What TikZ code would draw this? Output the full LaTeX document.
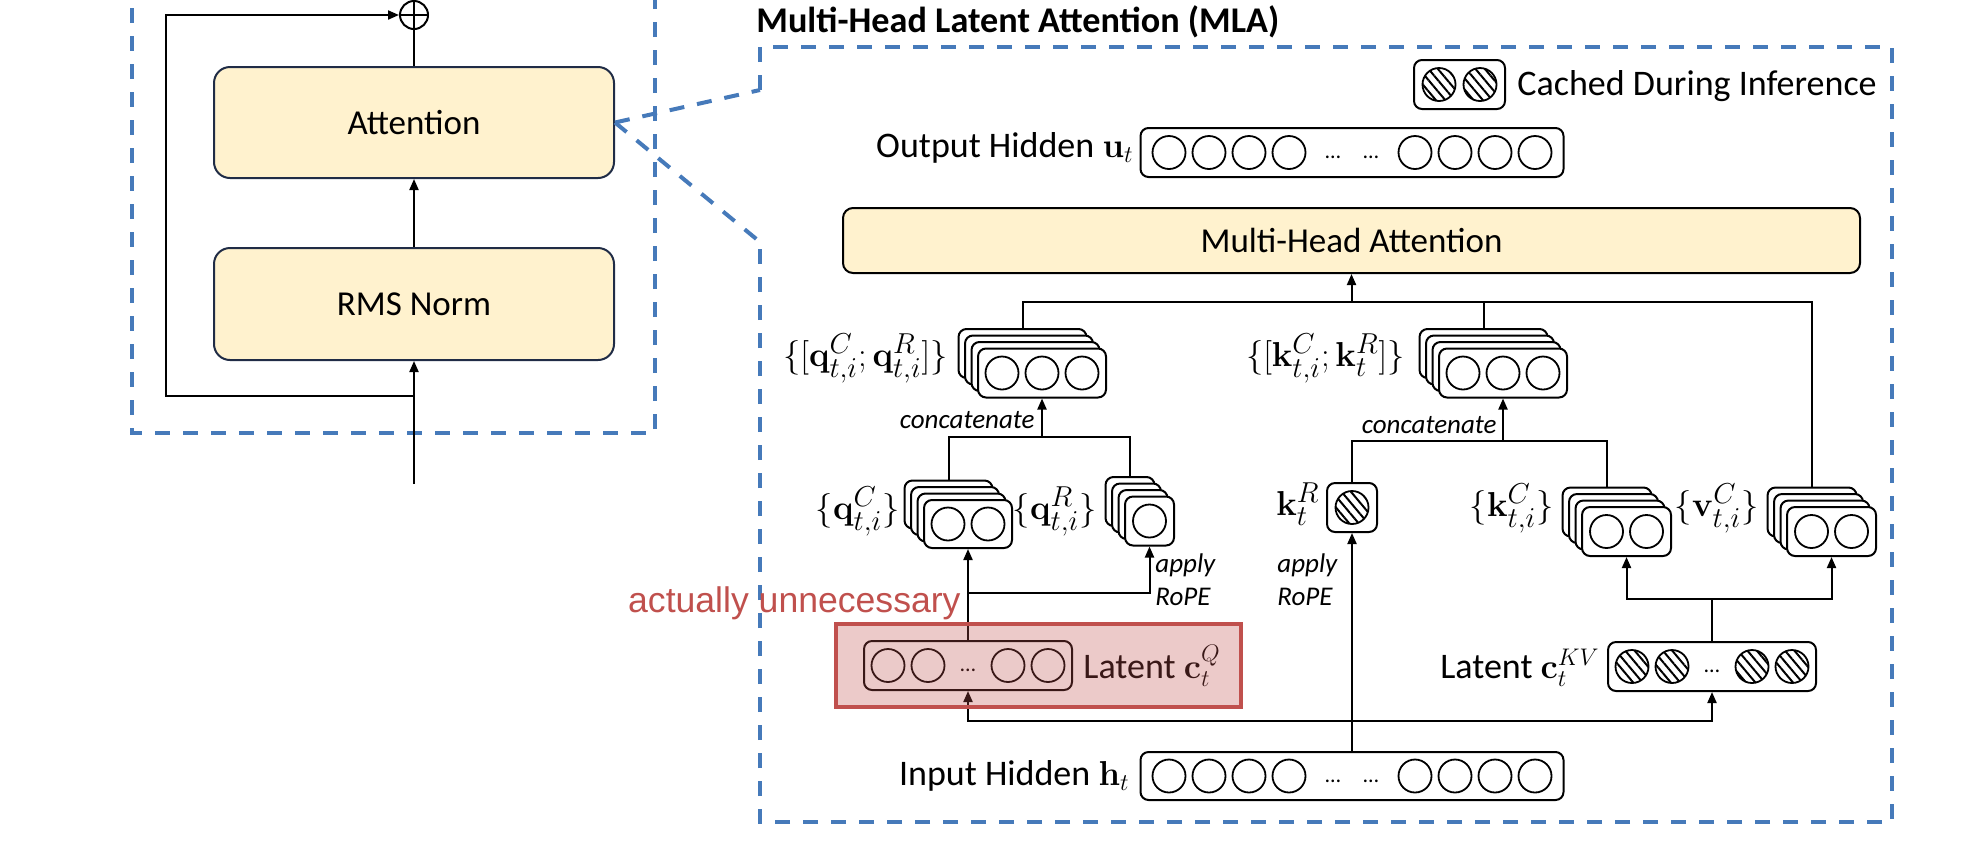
\documentclass[tikz,border=0pt]{standalone}
\usepackage[no-math]{fontspec}
\setmainfont{Carlito}
\newfontfamily\arialfont{Liberation Sans}
\usepackage{amsmath}
\usetikzlibrary{calc,arrows.meta,patterns.meta}

\definecolor{mlablue}{RGB}{70,122,186}
\definecolor{blockfill}{RGB}{255,242,206}
\definecolor{blockline}{RGB}{32,44,70}
\definecolor{unneeded}{RGB}{192,80,77}

\tikzset{
  block/.style={draw=blockline, line width=1pt, rounded corners=8pt, fill=blockfill,
    font=\fontsize{17.5}{21}\selectfont},
  vec/.style={draw, line width=1pt, rounded corners=4pt, fill=white, inner sep=0pt},
  cell/.style={draw, circle, line width=0.9pt, minimum size=16.5pt, inner sep=0pt},
  hcell/.style={cell, pattern={Lines[angle=-50,distance=3.6pt,line width=1pt]}},
  dots/.style={inner sep=0pt, anchor=base, font=\fontsize{11}{11}\selectfont},
  lbl/.style={inner sep=0pt, font=\fontsize{18}{21}\selectfont},
  mlbl/.style={inner sep=0pt, font=\fontsize{19}{23}\selectfont},
  note/.style={inner sep=0pt, align=left, font=\fontsize{13.5}{16.5}\selectfont\itshape},
  title/.style={inner sep=0pt, font=\fontsize{18.1}{21}\selectfont\bfseries},
  zoomline/.style={draw=mlablue, line width=2pt, dash pattern=on 7.5pt off 6.5pt},
  link/.style={line width=1pt},
}

% stack of 4 vectors: name, x, y, width, height
\newcommand{\vecstack}[5]{%
  \foreach \k in {3,2,1}
    \node[vec, minimum width=#4, minimum height=#5] (#1\k) at ({#2-6.5*\k},{#3-6.5*\k}) {};
  \node[vec, minimum width=#4, minimum height=#5] (#1) at (#2,#3) {};
}

\begin{document}
\begin{tikzpicture}[x=0.5pt,y=-0.5pt,>={Triangle[length=5.5pt,width=4.5pt]}]
\clip (0,0) rectangle (1968,842);

% ---------- LEFT: transformer block ----------
\draw[zoomline] (132,-20) rectangle (655,433);
\node[block, minimum width=200pt, minimum height=55.5pt] (attn) at (414,122.5) {Attention};
\node[block, minimum width=200pt, minimum height=56pt] (rms) at (414,304) {RMS Norm};
\node[draw, circle, line width=1pt, minimum size=14pt, inner sep=0pt] (plus) at (414,15) {};
\draw[link] (plus.north) -- (plus.south) (plus.west) -- (plus.east);

\coordinate (xin) at (414,484);
\coordinate (resid) at (414,396);
\draw[link,->] (xin) -- (rms.south);
\draw[link,->] (rms.north) -- (attn.south);
\draw[link] (attn.north) -- (plus.south);
\draw[link,->] (resid) -- ++(-248,0) |- (plus.west);

% ---------- RIGHT: MLA frame ----------
\node[title, anchor=base west] (mlatitle) at (756,32) {Multi-Head Latent Attention (MLA)};
\coordinate (zoomtop) at (760,90);
\coordinate (zoombot) at (760,242);
\draw[zoomline] (zoomtop) -- (760,47) -- (1892,47) -- (1892,822) -- (760,822) -- (zoombot);
\draw[zoomline] (attn.east) -- (zoomtop);
\draw[zoomline] (attn.east) -- (zoombot);

% legend
\node[vec, minimum width=45.5pt, minimum height=24.5pt] (cache) at (1459.5,84.5) {};
\foreach \dx in {-20.5,20.5} \node[hcell] at ($(cache)+(\dx,0)$) {};
\node[lbl, anchor=base west] at (1517,95) {Cached During Inference};

% output hidden
\node[vec, minimum width=211.5pt, minimum height=24.5pt] (out) at (1352,152.5) {};
\foreach \dx in {-183,-143,-103,-63,63,103,143,183} \node[cell] at ($(out)+(\dx,0)$) {};
\foreach \dx in {-19,19} \node[dots] at ($(out)+(\dx,6)$) {…};
\node[lbl, anchor=base east] at (1134,157) {Output Hidden $\mathbf{u}_t$};

% attention block
\node[block, draw=black, rounded corners=5pt, minimum width=508.5pt, minimum height=32.5pt] (mha) at (1351.5,240.5) {Multi-Head Attention};

% concatenated q and k
\vecstack{qcat}{1042}{373}{64pt}{24.5pt}
\foreach \dx in {-40,0,40} \node[cell] at ($(qcat)+(\dx,0)$) {};
\node[mlbl, anchor=base east] at (948,366) {$\{[\mathbf{q}^{C}_{t,i};\mathbf{q}^{R}_{t,i}]\}$};

\vecstack{kcat}{1503}{373}{64pt}{24.5pt}
\foreach \dx in {-40,0,40} \node[cell] at ($(kcat)+(\dx,0)$) {};
\node[mlbl, anchor=base east] at (1405,366) {$\{[\mathbf{k}^{C}_{t,i};\mathbf{k}^{R}_{t}]\}$};

% per-head pieces
\vecstack{qC}{968}{524}{44pt}{24pt}
\foreach \dx in {-20,20} \node[cell] at ($(qC)+(\dx,0)$) {};
\node[mlbl, anchor=base east] at (900,519) {$\{\mathbf{q}^{C}_{t,i}\}$};

\vecstack{qR}{1149.5}{521}{24.5pt}{24.5pt}
\node[cell] at (qR) {};
\node[mlbl, anchor=base east] at (1097,519) {$\{\mathbf{q}^{R}_{t,i}\}$};

\node[vec, minimum width=25pt, minimum height=24.5pt] (kR) at (1352,507.5) {};
\node[hcell] at (kR) {};
\node[mlbl, anchor=base east] at (1320,515) {$\mathbf{k}^{R}_{t}$};

\vecstack{kC}{1626.5}{531.5}{44.5pt}{24.5pt}
\foreach \dx in {-20,20} \node[cell] at ($(kC)+(\dx,0)$) {};
\node[mlbl, anchor=base east] at (1554,516) {$\{\mathbf{k}^{C}_{t,i}\}$};

\vecstack{vC}{1831.5}{531.5}{44.5pt}{24.5pt}
\foreach \dx in {-20,20} \node[cell] at ($(vC)+(\dx,0)$) {};
\node[mlbl, anchor=base east] at (1759,516) {$\{\mathbf{v}^{C}_{t,i}\}$};

% latents
\node[vec, minimum width=104pt, minimum height=24.5pt] (cQ) at (968,665.5) {};
\foreach \dx in {-80,-40,40,80} \node[cell] at ($(cQ)+(\dx,0)$) {};
\node[dots] at ($(cQ)+(0,6)$) {…};
\node[lbl, anchor=base west] at (1083,678) {Latent $\mathbf{c}^{Q}_{t}$};

\node[vec, minimum width=104pt, minimum height=24.5pt] (cKV) at (1712,666.5) {};
\foreach \dx in {-80,-40,40,80} \node[hcell] at ($(cKV)+(\dx,0)$) {};
\node[dots] at ($(cKV)+(0,6)$) {…};
\node[lbl, anchor=base east] at (1600,678) {Latent $\mathbf{c}^{KV}_{t}$};

% input hidden
\node[vec, minimum width=211.5pt, minimum height=24pt] (in) at (1352,776) {};
\foreach \dx in {-183,-143,-103,-63,63,103,143,183} \node[cell] at ($(in)+(\dx,0)$) {};
\foreach \dx in {-19,19} \node[dots] at ($(in)+(\dx,6)$) {…};
\node[lbl, anchor=base east] at (1130,785) {Input Hidden $\mathbf{h}_t$};

% ---------- connectors ----------
\coordinate (bus) at (1351.5,302);
\draw[link] (qcat3.north) |- (bus) -| (vC3.north);
\draw[link] (kcat3.north) -- (kcat3.north |- bus);
\draw[link,->] (bus) -- (mha.south);

\coordinate (qjoin) at (1042,437);
\draw[link] (qC3.north) |- (qjoin) -| (qR3.north);
\draw[link,->] (qjoin) -- (qcat.south);
\node[note, anchor=base east] at (1035,428) {concatenate};

\coordinate (kjoin) at (1503,441);
\draw[link] (kR.north) |- (kjoin) -| (kC3.north);
\draw[link,->] (kjoin) -- (kcat.south);
\node[note, anchor=base east] at (1497,433) {concatenate};

\coordinate (qsplit) at (968,593);
\draw[link,->] (cQ.north) -- (qC.south);
\draw[link,->] (qsplit) -| (qR.south);
\node[note, anchor=north west] at (1155,553) {apply\\RoPE};

\coordinate (kvsplit) at (1712,599);
\draw[link] (cKV.north) -- (kvsplit);
\draw[link,->] (kvsplit) -| (kC.south);
\draw[link,->] (kvsplit) -| (vC.south);

\coordinate (hsplit) at (1352,721);
\draw[link,->] (in.north) -- (kR.south);
\draw[link,->] (hsplit) -| (cQ.south);
\draw[link,->] (hsplit) -| (cKV.south);
\node[note, anchor=north west] at (1277,553) {apply\\RoPE};

% highlight
\node[draw=unneeded, line width=2pt, fill=unneeded, fill opacity=0.3, inner sep=0pt,
  minimum width=202.5pt, minimum height=41.5pt] (unneed) at (1038.5,665.5) {};
\node[inner sep=0pt, anchor=base east, text=unneeded, font=\arialfont\fontsize{17.8}{21}\selectfont]
  at (961,612) {actually unnecessary};

\end{tikzpicture}
\end{document}
